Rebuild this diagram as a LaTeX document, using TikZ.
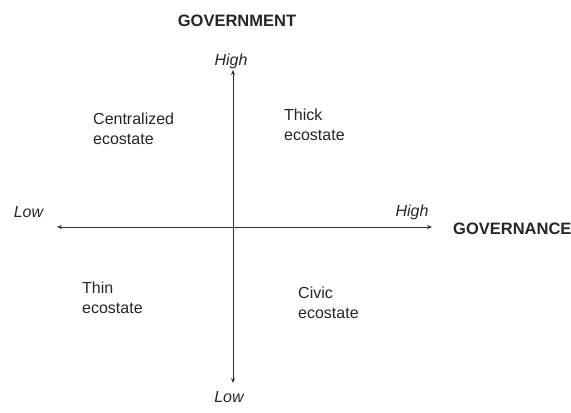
\documentclass[tikz,border=0pt]{standalone}
\usepackage{fontspec}
\setmainfont{Liberation Sans}
\usetikzlibrary{arrows.meta}
\tikzset{
  lbl/.style={inner sep=0pt,text=black!85,font=\fontsize{16bp}{20bp}\selectfont},
  endlbl/.style={lbl,font=\fontsize{16bp}{20bp}\selectfont\itshape,anchor=base},
  head/.style={lbl,font=\fontsize{16.5bp}{20bp}\selectfont\bfseries},
  quad/.style={lbl,align=left,anchor=west},
  axis/.style={draw=black!80,line width=0.8bp,{Stealth[length=5bp,width=4bp]}-{Stealth[length=5bp,width=4bp]}}
}
\begin{document}
\begin{tikzpicture}
\useasboundingbox (0bp,0bp) rectangle (571bp,413bp);
  \coordinate (Top) at (233bp,343bp);
  \coordinate (Bot) at (233bp,30bp);
  \coordinate (Left) at (57bp,186bp);
  \coordinate (Right) at (432bp,186bp);
  \node (Govt) at (237bp,386bp) [head,anchor=base] {GOVERNMENT};
  \node (Gnce) at (453bp,178bp) [head,anchor=base west] {GOVERNANCE};
  \node (HighT) at (231bp,347bp) [endlbl] {High};
  \node (LowB) at (229bp,11bp) [endlbl] {Low};
  \node (LowL) at (28.5bp,195bp) [endlbl] {Low};
  \node (HighR) at (412bp,196bp) [endlbl] {High};
  \node (Central) at (93bp,284bp) [quad] {Centralized\\ecostate};
  \node (Thick) at (284bp,288.5bp) [quad] {Thick\\ecostate};
  \node (Thin) at (82bp,115.5bp) [quad] {Thin\\ecostate};
  \node (Civic) at (298bp,110bp) [quad] {Civic\\ecostate};
  \draw [axis] (Bot) -- (Top);
  \draw [axis] (Left) -- (Right);
\end{tikzpicture}
\end{document}
